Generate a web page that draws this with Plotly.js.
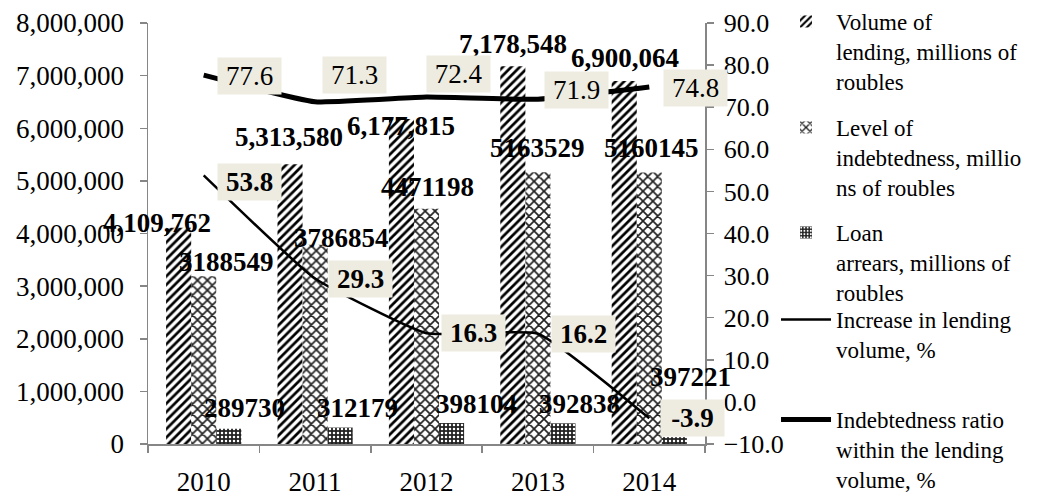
<!DOCTYPE html>
<html>
<head>
<meta charset="utf-8">
<script src="https://cdn.plot.ly/plotly-3.0.1.min.js"></script>
<style>html,body{margin:0;padding:0;background:#fff;}#chart{width:1062px;height:497px;}</style>
</head>
<body>
<div id="chart"></div>
<script>
const years = ['2010', '2011', '2012', '2013', '2014'];
const lendingVolume = [4109762, 5313580, 6177815, 7178548, 6900064];
const indebtedness = [3188549, 3786854, 4471198, 5163529, 5160145];
const arrears = [289730, 312179, 398104, 392838, 130000];
const arrearsLabels = ['289730', '312179', '398104', '392838', '397221'];
const increasePct = [53.8, 29.3, 16.3, 16.2, -3.9];
const ratioPct = [77.6, 71.3, 72.4, 71.9, 74.8];

const seriesNames = [
  'Volume of<br>lending, millions of<br>roubles',
  'Level of<br>indebtedness, millio<br>ns of roubles',
  'Loan<br>arrears, millions of<br>roubles',
  'Increase in lending<br>volume, %',
  'Indebtedness ratio<br>within the lending<br>volume, %'
];

// label pixel offsets (style only)
const volShift = [[-47, 5], [-26, 27], [-25.5, -7], [-25, 22], [-24, 23]];
const debtShift = [[23, 14], [26, 7], [0.5, 22], [0, 24], [2, 24]];
const arrShift = [[41, 21], [42, 20], [49.5, 19], [42, 19], [41, 60]];
const ratioShift = [[46, -1], [39, 27], [31.5, 23], [39, 9], [46, -1]];
const incShift = [[46, -6.5], [45, 0], [46.5, 0], [46, 0], [43, 0]];

const FONT = 'Liberation Serif, Times New Roman, serif';
const AXIS_GRAY = '#868686';
const BOX = '#EEECE1';

const traces = [
  {
    type: 'bar', x: years, y: lendingVolume, name: seriesNames[0], legend: 'legend',
    marker: {color: 'white', line: {width: 0},
      pattern: {shape: '/', fgcolor: '#000', bgcolor: '#fff', size: 6, solidity: 0.45}}
  },
  {
    type: 'bar', x: years, y: indebtedness, name: seriesNames[1], legend: 'legend2',
    marker: {color: 'white', line: {width: 0},
      pattern: {shape: 'x', fgcolor: '#222', bgcolor: '#fff', size: 7, solidity: 0.42}}
  },
  {
    type: 'bar', x: years, y: arrears, name: seriesNames[2], legend: 'legend3',
    marker: {color: '#222', line: {width: 0},
      pattern: {shape: '.', fgcolor: '#fff', bgcolor: '#222', size: 4, solidity: 0.3}}
  },
  {
    type: 'scatter', mode: 'lines', x: years, y: increasePct, yaxis: 'y2', name: seriesNames[3], legend: 'legend4',
    line: {color: '#000', width: 2.5, shape: 'spline', smoothing: 0.4}
  },
  {
    type: 'scatter', mode: 'lines', x: years, y: ratioPct, yaxis: 'y2', name: seriesNames[4], legend: 'legend5',
    line: {color: '#000', width: 5, shape: 'spline', smoothing: 0.4}
  }
];

const annotations = [];
function addLabels(values, texts, shifts, yref, bold, boxed) {
  values.forEach((v, i) => {
    const a = {
      x: i, y: v, xref: 'x', yref: yref,
      text: texts[i], showarrow: false,
      xanchor: 'center', yanchor: 'middle',
      xshift: shifts[i][0], yshift: shifts[i][1],
      font: {family: FONT, size: 27, color: '#000', weight: bold ? 'bold' : 'normal'}
    };
    if (boxed) {
      a.bgcolor = BOX; a.width = 63; a.height = 36; a.borderpad = 0; a.align = 'center'; a.valign = 'middle';
    }
    annotations.push(a);
  });
}
addLabels(lendingVolume, lendingVolume.map(v => v.toLocaleString('en-US')), volShift, 'y', true, false);
addLabels(indebtedness, indebtedness.map(v => String(v)), debtShift, 'y', true, false);
addLabels(arrears, arrearsLabels, arrShift, 'y', true, false);
addLabels(ratioPct, ratioPct.map(v => v.toFixed(1)), ratioShift, 'y2', false, true);
addLabels(increasePct, increasePct.map(v => v.toFixed(1)), incShift, 'y2', true, true);

function legendAt(yPaper) {
  return {
    x: 1.1275, xanchor: 'left', y: yPaper, yanchor: 'top',
    bgcolor: 'rgba(0,0,0,0)', borderwidth: 0, valign: 'top', itemwidth: 50,
    font: {family: FONT, size: 23, color: '#000'}, tracegroupgap: 0
  };
}

const layout = {
  width: 1062, height: 497,
  margin: {l: 148, r: 357, t: 23, b: 53, pad: 0, autoexpand: false},
  paper_bgcolor: '#fff', plot_bgcolor: '#fff',
  font: {family: FONT, color: '#000'},
  barmode: 'group', bargap: 0.325, bargroupgap: 0,
  showlegend: true,
  xaxis: {
    type: 'category', range: [-0.5, 4.5], autorange: false, automargin: false,
    showgrid: false, zeroline: false,
    showline: true, linecolor: AXIS_GRAY, linewidth: 1.5,
    ticks: 'outside', tickson: 'boundaries', ticklen: 7, tickcolor: AXIS_GRAY, tickwidth: 1.5,
    tickangle: 0,
    tickfont: {family: FONT, size: 27, color: '#000'}, ticklabelstandoff: 13
  },
  yaxis: {
    range: [0, 8000000], dtick: 1000000, tickformat: ',', showgrid: false, zeroline: false,
    automargin: false,
    showline: true, linecolor: AXIS_GRAY, linewidth: 1.5,
    ticks: 'outside', ticklen: 7, tickcolor: AXIS_GRAY, tickwidth: 1.5,
    tickfont: {family: FONT, size: 27, color: '#000'}, ticklabelstandoff: 10
  },
  yaxis2: {
    overlaying: 'y', side: 'right', range: [-10, 90], dtick: 10, tickformat: '.1f',
    showgrid: false, zeroline: false, automargin: false,
    showline: true, linecolor: AXIS_GRAY, linewidth: 1.5,
    ticks: 'outside', ticklen: 7, tickcolor: AXIS_GRAY, tickwidth: 1.5,
    tickfont: {family: FONT, size: 26, color: '#000'}, ticklabelstandoff: 5
  },
  legend: legendAt(1.0546),
  legend2: legendAt(0.8029),
  legend3: legendAt(0.5534),
  legend4: legendAt(0.3468),
  legend5: legendAt(0.1093),
  annotations: annotations
};

Plotly.newPlot('chart', traces, layout, {displayModeBar: false, staticPlot: true});
</script>
</body>
</html>
